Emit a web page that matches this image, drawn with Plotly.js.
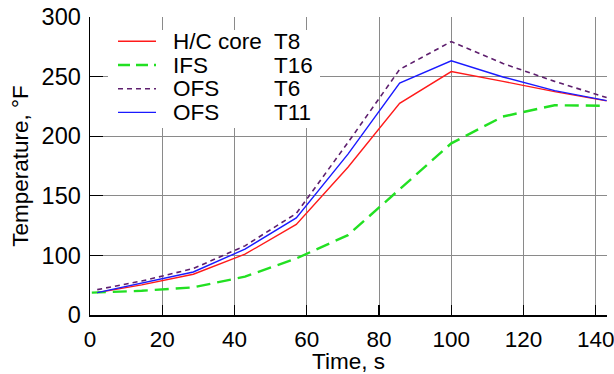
<!DOCTYPE html>
<html>
<head>
<meta charset="utf-8">
<script src="https://cdn.plot.ly/plotly-3.0.1.min.js"></script>
<style>
  html, body { margin: 0; padding: 0; background: #fff; }
  #chart { width: 614px; height: 374px; }
</style>
</head>
<body>
<div id="chart"></div>
<script>
// ---- data ----
const timeOuter = [2, 14.3, 28.6, 42.9, 57.1, 71.4, 85.7, 100, 114.3, 128.6, 143];
const timeIFS   = [0.5, 14.3, 28.6, 42.9, 57.1, 71.4, 85.7, 100, 114.3, 128.6, 143];
const tempT8  = [68.8, 75.3, 84.2, 101, 126, 174, 227.6, 254.2, 246, 237.4, 229.6];
const tempT16 = [68.8, 70.3, 73.2, 82.2, 97.4, 117, 155.5, 194, 216.5, 226, 225.5];
const tempT6  = [71.3, 78.5, 89, 108, 135.2, 194.7, 256, 279.4, 261, 246, 232.4];
const tempT11 = [68.8, 77, 86.1, 105.3, 131.5, 185, 244.5, 263.2, 249.7, 238.2, 229.8];

const seriesNames = ["H/C core", "IFS", "OFS", "OFS"];
const sensorIds   = ["T8", "T16", "T6", "T11"];

const yTickVals = [50, 100, 150, 200, 250, 300];
const yTickText = ["0", "100", "150", "200", "250", "300"];
const xTickVals = [0, 20, 40, 60, 80, 100, 120, 140];

// ---- styles ----
const colors = ["#ff1a1a", "#22e022", "#5e1f6e", "#1a1aff"];
const dashes = ["solid", "14px,7px", "5px,4px", "solid"];
const widths = [1.4, 2.4, 1.6, 1.4];
const xs = [timeOuter, timeIFS, timeOuter, timeOuter];
const ys = [tempT8, tempT16, tempT6, tempT11];

const FONT = "Liberation Sans, Arial, sans-serif";

const traces = ys.map((y, i) => ({
  type: "scatter",
  mode: "lines",
  x: xs[i],
  y: y,
  name: seriesNames[i] + " " + sensorIds[i],
  line: { color: colors[i], width: widths[i], dash: dashes[i] },
  showlegend: false
}));

// plot area in pixels
const L = 90, R = 7, T = 17, B = 59, W = 614, H = 374;
const pw = W - L - R, ph = H - T - B;
const px = v => (v - L) / pw;
const py = v => (H - B - v) / ph;

// custom legend (key lines + text)
const shapes = [{
  type: "rect", xref: "paper", yref: "paper", layer: "above",
  x0: px(108), x1: px(320), y0: py(128), y1: py(30),
  fillcolor: "#ffffff", line: { width: 0 }
}];
const annotations = [];
const rowY = [41.3, 65, 88.7, 112.4];
rowY.forEach((ry, i) => {
  shapes.push({
    type: "line", xref: "paper", yref: "paper", layer: "above",
    x0: px(118), x1: px(156), y0: py(ry), y1: py(ry),
    line: { color: colors[i], width: widths[i], dash: dashes[i] === "14px,7px" ? "12px,6px" : dashes[i] }
  });
  annotations.push({
    xref: "paper", yref: "paper", x: px(171), y: py(ry),
    xanchor: "left", yanchor: "middle", showarrow: false, height: 21,
    text: seriesNames[i], font: { family: FONT, size: 22.5, color: "#000" }
  });
  annotations.push({
    xref: "paper", yref: "paper", x: px(272), y: py(ry),
    xanchor: "left", yanchor: "middle", showarrow: false, height: 21,
    text: sensorIds[i], font: { family: FONT, size: 22.5, color: "#000" }
  });
});

const layout = {
  width: W, height: H,
  margin: { l: L, r: R, t: T, b: B, pad: 0 },
  paper_bgcolor: "#fff", plot_bgcolor: "#fff",
  font: { family: FONT, size: 22, color: "#000" },
  showlegend: false,
  xaxis: {
    range: [0, 143.1],
    tickvals: xTickVals,
    ticks: "inside", ticklen: 10, tickwidth: 1.2, tickcolor: "#000",
    showline: true, linecolor: "#000", linewidth: 1.5,
    showgrid: true, gridcolor: "#8a8a8a", gridwidth: 1,
    zeroline: false,
    ticklabeloverflow: "allow",
    ticklabelstandoff: 3,
    tickfont: { family: FONT, size: 22.5, color: "#000" },
    title: { text: "Time, s", font: { family: FONT, size: 22.5, color: "#000" }, standoff: 8 }
  },
  yaxis: {
    range: [50, 300],
    tickvals: yTickVals, ticktext: yTickText,
    ticks: "inside", ticklen: 13, tickwidth: 1.2, tickcolor: "#000",
    showline: true, linecolor: "#000", linewidth: 1.5,
    showgrid: true, gridcolor: "#8a8a8a", gridwidth: 1,
    zeroline: false,
    ticklabeloverflow: "allow",
    ticklabelstandoff: 3,
    tickfont: { family: FONT, size: 23.5, color: "#000" },
    title: { text: "Temperature, °F", font: { family: FONT, size: 22.5, color: "#000" }, standoff: 6 }
  },
  shapes: shapes,
  annotations: annotations
};

Plotly.newPlot("chart", traces, layout, { staticPlot: true, displayModeBar: false });
</script>
</body>
</html>
